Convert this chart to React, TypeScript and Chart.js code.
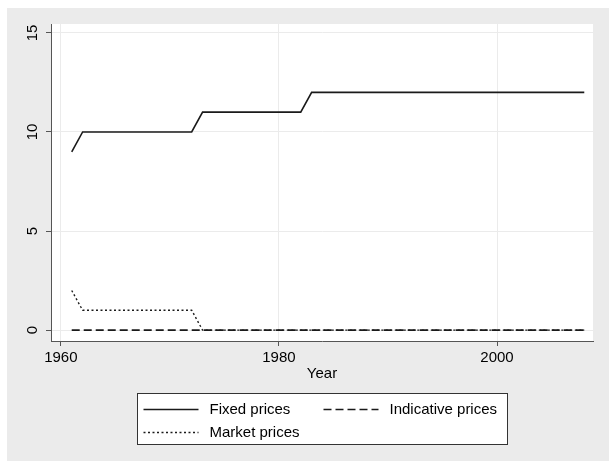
import React, { useEffect, useRef } from "react";
import { Chart, registerables } from "chart.js";

Chart.register(...registerables);

const FONT = '"Liberation Sans", Arial, Helvetica, sans-serif';

const years = [
  1961, 1962, 1963, 1964, 1965, 1966, 1967, 1968, 1969, 1970,
  1971, 1972, 1973, 1974, 1975, 1976, 1977, 1978, 1979, 1980,
  1981, 1982, 1983, 1984, 1985, 1986, 1987, 1988, 1989, 1990,
  1991, 1992, 1993, 1994, 1995, 1996, 1997, 1998, 1999, 2000,
  2001, 2002, 2003, 2004, 2005, 2006, 2007, 2008,
];

const fixedPrices = [
  9, 10, 10, 10, 10, 10, 10, 10, 10, 10,
  10, 10, 11, 11, 11, 11, 11, 11, 11, 11,
  11, 11, 12, 12, 12, 12, 12, 12, 12, 12,
  12, 12, 12, 12, 12, 12, 12, 12, 12, 12,
  12, 12, 12, 12, 12, 12, 12, 12,
];

const indicativePrices = [
  0, 0, 0, 0, 0, 0, 0, 0, 0, 0,
  0, 0, 0, 0, 0, 0, 0, 0, 0, 0,
  0, 0, 0, 0, 0, 0, 0, 0, 0, 0,
  0, 0, 0, 0, 0, 0, 0, 0, 0, 0,
  0, 0, 0, 0, 0, 0, 0, 0,
];

const marketPrices = [
  2, 1, 1, 1, 1, 1, 1, 1, 1, 1,
  1, 1, 0, 0, 0, 0, 0, 0, 0, 0,
  0, 0, 0, 0, 0, 0, 0, 0, 0, 0,
  0, 0, 0, 0, 0, 0, 0, 0, 0, 0,
  0, 0, 0, 0, 0, 0, 0, 0,
];

const seriesNames = ["Fixed prices", "Indicative prices", "Market prices"];
const xTicks = [1960, 1980, 2000];
const yTicks = [0, 5, 10, 15];
const xTitle = "Year";

const plotBg = {
  id: "plotBg",
  beforeDraw(chart: any) {
    const { ctx, chartArea: a } = chart;
    ctx.save();
    ctx.fillStyle = "#ffffff";
    ctx.fillRect(a.left, a.top, a.right - a.left, a.bottom - a.top);
    ctx.restore();
  },
};

const boxLegend = {
  id: "boxLegend",
  afterDraw(chart: any) {
    const { ctx, chartArea: a } = chart;
    const xs = chart.scales.x;
    const w = 370;
    const h = 51;
    const left = Math.round((a.left + a.right) / 2 - w / 2) + 0.5;
    const top = Math.round(xs.bottom + 7) + 0.5;
    ctx.save();
    ctx.fillStyle = "#ffffff";
    ctx.fillRect(left, top, w, h);
    ctx.strokeStyle = "#333333";
    ctx.lineWidth = 1;
    ctx.strokeRect(left, top, w, h);
    const slots = [
      { col: 6, row: 15 },
      { col: 186, row: 15 },
      { col: 6, row: 38 },
    ];
    ctx.font = `15px ${FONT}`;
    ctx.textBaseline = "middle";
    ctx.textAlign = "left";
    chart.data.datasets.forEach((ds: any, i: number) => {
      const s = slots[i];
      const y = Math.round(top + s.row) + 0.5;
      ctx.beginPath();
      ctx.setLineDash(ds.borderDash || []);
      ctx.strokeStyle = ds.borderColor;
      ctx.lineWidth = ds.borderWidth;
      ctx.moveTo(left + s.col, y);
      ctx.lineTo(left + s.col + 55, y);
      ctx.stroke();
      ctx.setLineDash([]);
      ctx.fillStyle = "#000000";
      ctx.fillText(ds.label, left + s.col + 66, y);
    });
    ctx.restore();
  },
};

export default function App() {
  const ref = useRef<HTMLCanvasElement | null>(null);

  useEffect(() => {
    if (!ref.current) return;
    const chart = new Chart(ref.current, {
      type: "line",
      data: {
        labels: years,
        datasets: [
          {
            label: seriesNames[0],
            data: fixedPrices,
            borderColor: "#1a1a1a",
            borderWidth: 1.6,
            pointRadius: 0,
            fill: false,
          },
          {
            label: seriesNames[1],
            data: indicativePrices,
            borderColor: "#1a1a1a",
            borderWidth: 1.6,
            borderDash: [8, 4],
            pointRadius: 0,
            fill: false,
          },
          {
            label: seriesNames[2],
            data: marketPrices,
            borderColor: "#1a1a1a",
            borderWidth: 1.4,
            borderDash: [2, 2.5],
            pointRadius: 0,
            fill: false,
          },
        ],
      },
      options: {
        animation: false,
        responsive: true,
        maintainAspectRatio: false,
        layout: { padding: { left: 0, right: 16, top: 16, bottom: 75 } },
        plugins: {
          legend: { display: false },
          tooltip: { enabled: false },
        },
        elements: { line: { tension: 0 }, point: { radius: 0 } },
        scales: {
          x: {
            type: "linear",
            min: 1959.1,
            max: 2008.8,
            afterBuildTicks: (s: any) => {
              s.ticks = xTicks.map((v) => ({ value: v }));
            },
            afterFit: (s: any) => {
              s.height = 45;
            },
            grid: {
              color: "#ebebeb",
              lineWidth: 1,
              drawTicks: true,
              tickLength: 5,
              tickColor: "#555555",
            },
            border: { display: true, color: "#555555", width: 1 },
            ticks: {
              autoSkip: false,
              maxRotation: 0,
              minRotation: 0,
              padding: 3,
              color: "#000000",
              font: { family: FONT, size: 15 },
              callback: (v: any) => String(v),
            },
            title: {
              display: true,
              text: xTitle,
              color: "#000000",
              font: { family: FONT, size: 15 },
              padding: { top: 0, bottom: 3 },
            },
          },
          y: {
            type: "linear",
            min: -0.55,
            max: 15.45,
            afterBuildTicks: (s: any) => {
              s.ticks = yTicks.map((v) => ({ value: v }));
            },
            afterFit: (s: any) => {
              s.width = 44;
            },
            grid: {
              color: "#ebebeb",
              lineWidth: 1,
              drawTicks: true,
              tickLength: 5,
              tickColor: "#555555",
            },
            border: { display: true, color: "#555555", width: 1 },
            ticks: {
              autoSkip: false,
              minRotation: 90,
              maxRotation: 90,
              crossAlign: "center",
              padding: 5,
              color: "#000000",
              font: { family: FONT, size: 15 },
              callback: (v: any) => String(v),
            },
          },
        },
      },
      plugins: [plotBg, boxLegend],
    } as any);
    return () => chart.destroy();
  }, []);

  return (
    <div
      style={{
        position: "fixed",
        left: 7,
        top: 8,
        width: 602,
        height: 453,
        background: "#ebebeb",
      }}
    >
      <canvas ref={ref} />
    </div>
  );
}
